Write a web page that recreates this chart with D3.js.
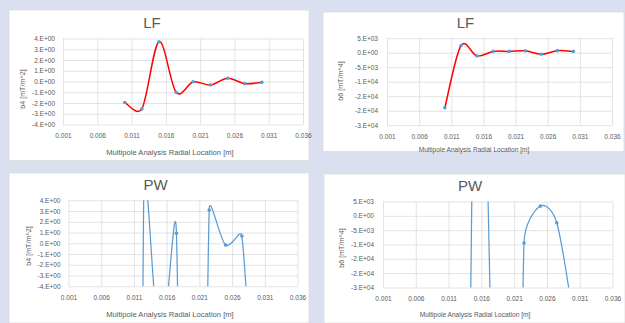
<!DOCTYPE html>
<html>
<head>
<meta charset="utf-8">
<script src="https://cdn.jsdelivr.net/npm/d3@7"></script>
<style>
  body { margin: 0; background: #dbe0f1; }
  svg { display: block; font-family: 'Liberation Sans', Arial, sans-serif; }
</style>
</head>
<body>
<script>
// radial positions of the multipole analysis (same for all four charts)
const xVals = [0.010, 0.0125, 0.015, 0.0175, 0.020, 0.0225, 0.025, 0.0275, 0.030];

// series values (PW ones outside the axis are guesses)
const lfB4 = [-1.95, -2.55, 3.7, -1.0, -0.03, -0.33, 0.3, -0.2, -0.08];
const lfB6 = [-19000, 2400, -1150, 450, 450, 650, -550, 700, 450];
const pwB4 = [-200, 5, -10, 0.93, -120, 3.1, -0.16, 0.68, -25];
const pwB6 = [-100000, -400000, 100000, -45000, -400000, -9500, 3400, -2400, -35000];

// ticks
const xTicks = [0.001, 0.006, 0.011, 0.016, 0.021, 0.026, 0.031, 0.036];
const xTickLabels = ['0.001', '0.006', '0.011', '0.016', '0.021', '0.026', '0.031', '0.036'];
const b4Ticks = [4, 3, 2, 1, 0, -1, -2, -3, -4];
const b4TickLabels = ['4.E+00', '3.E+00', '2.E+00', '1.E+00', '0.E+00', '-1.E+00', '-2.E+00', '-3.E+00', '-4.E+00'];
const b6Ticks = [5000, 0, -5000, -10000, -15000, -20000, -25000];
const b6TickLabels = ['5.E+03', '0.E+00', '-5.E+03', '-1.E+04', '-2.E+04', '-2.E+04', '-3.E+04'];

const xTitle = 'Multipole Analysis Radial Location [m]';

const W = 625, H = 323;
const svg = d3.select('body').append('svg').attr('width', W).attr('height', H);
svg.append('rect').attr('width', W).attr('height', H).attr('fill', '#dbe0f1');

// layout of the four charts
const charts = [
  { title: 'LF', yTitle: 'b4 [mT/m^2]', vals: lfB4, ticks: b4Ticks, labels: b4TickLabels, color: '#ff0000', lw: 1.5,
    box: [9, 10, 300, 150.5], plot: [63, 303, 38.5, 124.5], tpos: [152, 23], xt: [170, 152], yt: [22, 89], xfs: 7.6, ypad: 8 },
  { title: 'LF', yTitle: 'b6 [mT/m^4]', vals: lfB6, ticks: b6Ticks, labels: b6TickLabels, color: '#ff0000', lw: 1.5,
    box: [323, 12, 301, 139.5], plot: [387, 612, 38.2, 125.2], tpos: [465.5, 23], xt: [474, 150], yt: [340.5, 81], xfs: 6.6, ypad: 9 },
  { title: 'PW', yTitle: 'b4 [mT/m^2]', vals: pwB4, ticks: b4Ticks, labels: b4TickLabels, color: '#5b9bd5', lw: 1.25,
    box: [9, 173, 300, 150], plot: [68.5, 297.5, 200.3, 286.3], tpos: [155.5, 185], xt: [170, 314.5], yt: [28, 246], xfs: 7.6, ypad: 8 },
  { title: 'PW', yTitle: 'b6 [mT/m^4]', vals: pwB6, ticks: b6Ticks, labels: b6TickLabels, color: '#5b9bd5', lw: 1.25,
    box: [324, 174, 301, 149], plot: [383, 612.5, 201.5, 287.5], tpos: [470, 186], xt: [475, 314.5], yt: [341, 248], xfs: 6.6, ypad: 9 }
];

// smoothed line like the spreadsheet one: bezier with 1/6 tangents, capped at half the segment
function smoothPath(pts) {
  const p = d3.path();
  const dist = (a, b) => Math.hypot(b[0] - a[0], b[1] - a[1]);
  p.moveTo(pts[0][0], pts[0][1]);
  for (let i = 0; i < pts.length - 1; i++) {
    const p0 = pts[i - 1] || pts[i], p1 = pts[i], p2 = pts[i + 1], p3 = pts[i + 2] || pts[i + 1];
    const d12 = dist(p1, p2), d02 = dist(p0, p2), d13 = dist(p1, p3);
    const f1 = d02 > 0 ? Math.min(1 / 6, d12 / (2 * d02)) : 0;
    const f2 = d13 > 0 ? Math.min(1 / 6, d12 / (2 * d13)) : 0;
    p.bezierCurveTo(
      p1[0] + (p2[0] - p0[0]) * f1, p1[1] + (p2[1] - p0[1]) * f1,
      p2[0] - (p3[0] - p1[0]) * f2, p2[1] - (p3[1] - p1[1]) * f2,
      p2[0], p2[1]);
  }
  return p.toString();
}

charts.forEach(function(c, k) {
  const g = svg.append('g');
  const [l, r, t, b] = c.plot;

  g.append('rect')
    .attr('x', c.box[0]).attr('y', c.box[1])
    .attr('width', c.box[2]).attr('height', c.box[3])
    .attr('fill', '#ffffff').attr('stroke', '#d9d9d9').attr('stroke-width', 0.75);

  const x = d3.scaleLinear().domain([0.001, 0.036]).range([l, r]);
  const y = d3.scaleLinear().domain([d3.min(c.ticks), d3.max(c.ticks)]).range([b, t]);

  // x axis + vertical gridlines
  const xa = g.append('g').attr('transform', `translate(0,${b})`)
    .call(d3.axisBottom(x).tickValues(xTicks).tickSize(-(b - t)).tickPadding(9)
      .tickFormat((d, i) => xTickLabels[i]));
  // y axis + horizontal gridlines
  const ya = g.append('g').attr('transform', `translate(${l},0)`)
    .call(d3.axisLeft(y).tickValues(c.ticks).tickSize(-(r - l)).tickPadding(c.ypad)
      .tickFormat((d, i) => c.labels[i]));

  [xa, ya].forEach(function(a) {
    a.select('.domain').remove();
    a.selectAll('line').attr('stroke', '#d9d9d9').attr('stroke-width', 0.75);
    a.selectAll('text').attr('fill', '#595959').attr('font-size', 6.5);
  });

  // clip the series to the plot area
  const clipId = 'clip' + k;
  g.append('clipPath').attr('id', clipId)
    .append('rect').attr('x', l).attr('y', t).attr('width', r - l).attr('height', b - t);

  const pts = xVals.map((xv, i) => [x(xv), y(c.vals[i])]);
  const series = g.append('g').attr('clip-path', `url(#${clipId})`);
  series.append('path')
    .attr('d', smoothPath(pts))
    .attr('fill', 'none')
    .attr('stroke', c.color)
    .attr('stroke-width', c.lw);
  series.selectAll('circle').data(pts).enter().append('circle')
    .attr('cx', d => d[0]).attr('cy', d => d[1])
    .attr('r', 1.8)
    .attr('fill', '#5b9bd5');

  // titles
  g.append('text').attr('x', c.tpos[0]).attr('y', c.tpos[1]).attr('dy', '0.35em')
    .attr('text-anchor', 'middle').attr('font-size', 15).attr('fill', '#595959')
    .text(c.title);
  g.append('text').attr('x', c.xt[0]).attr('y', c.xt[1]).attr('dy', '0.35em')
    .attr('text-anchor', 'middle').attr('font-size', c.xfs).attr('fill', '#595959')
    .text(xTitle);
  g.append('text')
    .attr('transform', `translate(${c.yt[0]},${c.yt[1]}) rotate(-90)`)
    .attr('dy', '0.35em')
    .attr('text-anchor', 'middle').attr('font-size', 7.2).attr('fill', '#595959')
    .text(c.yTitle);
});
</script>
</body>
</html>
